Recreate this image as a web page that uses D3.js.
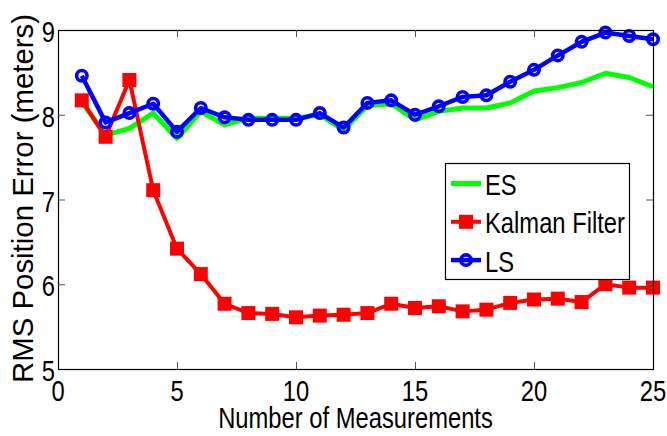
<!DOCTYPE html>
<html>
<head>
<meta charset="utf-8">
<script src="https://cdn.jsdelivr.net/npm/d3@7"></script>
<style>
  body { margin: 0; background: #fff; }
  svg { display: block; }
  text { font-family: "Liberation Sans", Arial, sans-serif; fill: #000; }
</style>
</head>
<body>
<div id="chart"></div>
<script>
const measurements = d3.range(1, 26);

const esValues = [8.15, 7.76, 7.84, 8.02, 7.72, 8.04, 7.88, 7.96, 7.96, 7.96, 8.00, 7.82, 8.11,
                  8.13, 7.94, 8.04, 8.08, 8.08, 8.14, 8.28, 8.32, 8.38, 8.49, 8.44, 8.33];
const kalmanValues = [8.17, 7.74, 8.41, 7.11, 6.42, 6.12, 5.77, 5.66, 5.65, 5.61, 5.63, 5.64, 5.66,
                      5.77, 5.72, 5.74, 5.68, 5.70, 5.78, 5.82, 5.83, 5.79, 6.00, 5.96, 5.96];
const lsValues = [8.46, 7.91, 8.02, 8.13, 7.80, 8.08, 7.97, 7.94, 7.94, 7.94, 8.02, 7.85, 8.14,
                  8.17, 8.00, 8.10, 8.21, 8.23, 8.39, 8.53, 8.70, 8.86, 8.97, 8.93, 8.89];

const xTicks = [0, 5, 10, 15, 20, 25];
const yTicks = [5, 6, 7, 8, 9];
const legendLabels = ["ES", "Kalman Filter", "LS"];

const W = 667, H = 436;
const NARROW = 0.82; // the figure's text is squeezed horizontally
const x = d3.scaleLinear().domain([0, 25]).range([58, 653]);
const y = d3.scaleLinear().domain([5, 9]).range([369, 30]);

const svg = d3.select("#chart").append("svg")
    .attr("width", W)
    .attr("height", H);

// narrow text helper
function label(parent, tx, ty, str, size, anchor) {
    return parent.append("text")
        .attr("transform", `translate(${tx},${ty}) scale(${NARROW},1)`)
        .attr("text-anchor", anchor || "start")
        .attr("font-size", size)
        .text(str);
}

const line = d3.line()
    .x((d, i) => x(measurements[i]))
    .y(d => y(d));

const series = [
    {name: "ES", values: esValues, color: "#00ff00", width: 5, marker: null},
    {name: "Kalman Filter", values: kalmanValues, color: "#ff0000", width: 4, marker: "square"},
    {name: "LS", values: lsValues, color: "#0000ff", width: 4.5, marker: "circle"}
];

function drawMarker(g, type, color, cx, cy) {
    if (type === "square") {
        g.append("rect")
            .attr("x", cx - 7).attr("y", cy - 7)
            .attr("width", 14).attr("height", 14)
            .attr("fill", color);
    } else if (type === "circle") {
        g.append("circle")
            .attr("cx", cx).attr("cy", cy).attr("r", 5.2)
            .attr("fill", "none")
            .attr("stroke", color)
            .attr("stroke-width", 3.6);
    }
}

series.forEach(s => {
    const g = svg.append("g");
    g.append("path")
        .datum(s.values)
        .attr("d", line)
        .attr("fill", "none")
        .attr("stroke", s.color)
        .attr("stroke-width", s.width)
        .attr("stroke-linejoin", "round");
    if (s.marker) {
        s.values.forEach((v, i) => drawMarker(g, s.marker, s.color, x(measurements[i]), y(v)));
    }
});

// axes box and inward ticks
const axisG = svg.append("g").attr("stroke", "#000");
axisG.append("rect")
    .attr("x", x(0) + 0.5).attr("y", y(9) + 0.5)
    .attr("width", x(25) - x(0)).attr("height", y(5) - y(9))
    .attr("fill", "none")
    .attr("stroke-width", 1.2);

xTicks.slice(1, -1).forEach(t => {
    axisG.append("line")
        .attr("x1", x(t) + 0.5).attr("x2", x(t) + 0.5)
        .attr("y1", y(5)).attr("y2", y(5) - 7)
        .attr("stroke", "#555");
    axisG.append("line")
        .attr("x1", x(t) + 0.5).attr("x2", x(t) + 0.5)
        .attr("y1", y(9)).attr("y2", y(9) + 7)
        .attr("stroke", "#555");
});
yTicks.slice(1, -1).forEach(t => {
    axisG.append("line")
        .attr("x1", x(0)).attr("x2", x(0) + 7)
        .attr("y1", y(t) + 0.5).attr("y2", y(t) + 0.5)
        .attr("stroke", "#555");
    axisG.append("line")
        .attr("x1", x(25)).attr("x2", x(25) - 7)
        .attr("y1", y(t) + 0.5).attr("y2", y(t) + 0.5)
        .attr("stroke", "#555");
});

// tick labels
const xLab = svg.append("g");
xTicks.forEach(t => label(xLab, x(t), 401, t, 29, "middle"));
const yLab = svg.append("g");
yTicks.forEach(t => label(yLab, x(0) - 3, y(t) + 12, t, 29, "end"));

// axis titles
label(svg, (x(0) + x(25)) / 2, 428, "Number of Measurements", 29, "middle");

svg.append("text")
    .attr("transform", `translate(33, 198.5) rotate(-90)`)
    .attr("text-anchor", "middle")
    .attr("font-size", 29.4)
    .text("RMS Position Error (meters)");

// legend
const legend = svg.append("g");
legend.append("rect")
    .attr("x", 445.5).attr("y", 163.5)
    .attr("width", 184).attr("height", 116)
    .attr("fill", "#fff")
    .attr("stroke", "#000")
    .attr("stroke-width", 1.2);

series.forEach((s, i) => {
    const ly = 183.5 + i * 38.3;
    const g = legend.append("g");
    g.append("line")
        .attr("x1", 451).attr("x2", 481)
        .attr("y1", ly).attr("y2", ly)
        .attr("stroke", s.color)
        .attr("stroke-width", s.width);
    if (s.marker) drawMarker(g, s.marker, s.color, 466, ly);
    label(g, 485, ly + 11.5, legendLabels[i], 29, "start");
});
</script>
</body>
</html>
